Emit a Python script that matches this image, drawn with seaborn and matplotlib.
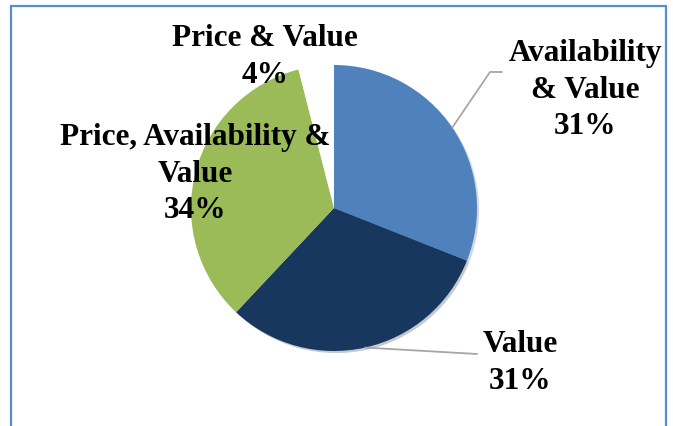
import numpy as np
import matplotlib
matplotlib.use("Agg")
import matplotlib.pyplot as plt
from matplotlib.patches import Rectangle
import seaborn as sns

# data
categories = ["Availability\n& Value", "Value", "Price, Availability &\nValue", "Price & Value"]
shares = [31, 31, 34, 4]
colors = ["#4F81BD", "#17375E", "#9BBB59", "#FFFFFF"]

sns.set_theme(style="white")
plt.rcParams['font.family'] = ['Liberation Serif', 'DejaVu Serif']

W, H = 673, 426
fig = plt.figure(figsize=(W / 100, H / 100), dpi=100)
ax = fig.add_axes([0, 0, 1, 1])

cx, cy, r = 334, H - 208, 143
wedges, _ = ax.pie(shares, colors=colors, startangle=90, counterclock=False,
                   center=(cx, cy), radius=r, frame=True,
                   wedgeprops=dict(linewidth=0),
                   shadow={'ox': 1.5, 'oy': -1.5, 'shade': 0.2, 'alpha': 0.25})
ax.set_xlim(0, W)
ax.set_ylim(0, H)
ax.set_aspect("equal")
ax.axis("off")

lbl = dict(fontsize=22.5, fontweight="bold", ha="center", va="center",
           linespacing=1.33, color="black")

# label positions (layout, pixels from top)
pos = [(585, 90), (520, 363), (195, 174), (265, 57)]
for cat, pct, (x, y) in zip(categories, shares, pos):
    ax.text(x, H - y, f"{cat}\n{pct}%", **lbl)


def anchor(w):
    a = np.deg2rad((w.theta1 + w.theta2) / 2)
    return cx + r * np.cos(a), cy + r * np.sin(a)


lc = "#A6A6A6"
ax0 = anchor(wedges[0])
ax.plot([ax0[0], 490, 502], [ax0[1], H - 72, H - 72], color=lc, lw=1.3)
ax1 = anchor(wedges[1])
ax.plot([ax1[0], 477], [ax1[1], H - 354], color=lc, lw=1.3)

# outer frame
fig.patches.append(Rectangle((11, -10), 655, H - 6 + 10, transform=None,
                             fill=False, edgecolor="#5B8BD0", linewidth=1.6))

fig.savefig("out.png", dpi=100)
